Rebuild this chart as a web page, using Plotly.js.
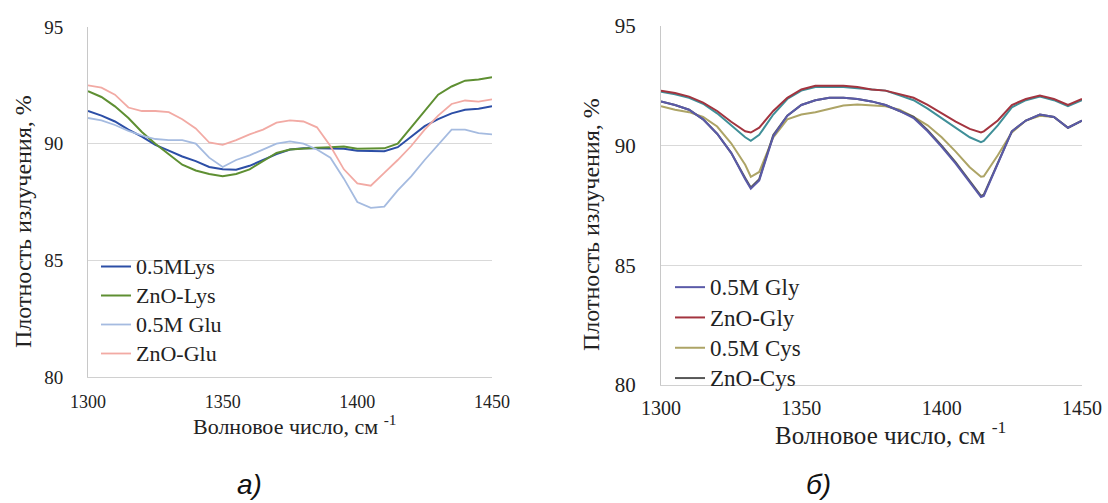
<!DOCTYPE html>
<html>
<head>
<meta charset="utf-8">
<script src="https://cdn.plot.ly/plotly-3.0.1.min.js"></script>
<style>
html,body{margin:0;padding:0;background:#fff;}
#chart{width:1108px;height:503px;}
</style>
</head>
<body>
<div id="chart"></div>
<script>
// ---------- Panel a) ----------
const wavenumberA = [1300,1305,1310,1315,1320,1325,1330,1335,1340,1345,1350,1355,1360,1365,1370,1375,1380,1385,1390,1395,1400,1405,1410,1415,1420,1425,1430,1435,1440,1445,1450];
const lys05M = [91.4,91.2,90.95,90.6,90.3,89.95,89.7,89.45,89.25,89.0,88.9,88.88,89.05,89.3,89.55,89.75,89.8,89.8,89.8,89.78,89.7,89.7,89.68,89.85,90.3,90.75,91.05,91.3,91.45,91.5,91.6];
const znoLys = [92.25,92.0,91.6,91.1,90.5,90.0,89.55,89.1,88.85,88.7,88.6,88.7,88.9,89.25,89.6,89.75,89.8,89.82,89.85,89.88,89.78,89.8,89.8,90.0,90.7,91.45,92.1,92.45,92.7,92.75,92.85];
const glu05M = [91.1,91.0,90.8,90.55,90.35,90.2,90.15,90.15,90.0,89.4,89.0,89.3,89.5,89.75,90.0,90.1,90.0,89.75,89.4,88.5,87.5,87.25,87.3,88.0,88.6,89.3,89.95,90.6,90.6,90.45,90.4];
const znoGlu = [92.5,92.4,92.1,91.55,91.4,91.4,91.35,91.05,90.65,90.05,89.95,90.15,90.4,90.6,90.9,91.0,90.95,90.7,89.9,88.9,88.3,88.2,88.75,89.3,89.9,90.6,91.2,91.7,91.85,91.8,91.9];
const legendA = ['0.5MLys', 'ZnO-Lys', '0.5M Glu', 'ZnO-Glu'];

// ---------- Panel б) ----------
const wavenumberB = [1300,1305,1310,1315,1320,1325,1330,1332,1335,1340,1345,1350,1355,1360,1365,1370,1375,1380,1385,1390,1395,1400,1405,1410,1414,1415,1420,1425,1430,1435,1440,1445,1450];
const gly05M = [91.85,91.7,91.5,91.1,90.5,89.7,88.6,88.2,88.55,90.4,91.25,91.7,91.9,92.0,92.0,91.95,91.85,91.7,91.45,91.15,90.6,89.95,89.25,88.45,87.85,87.9,89.25,90.6,91.05,91.3,91.2,90.75,91.05];
const znoGly = [92.3,92.2,92.05,91.8,91.45,91.0,90.6,90.55,90.75,91.45,92.0,92.35,92.5,92.5,92.5,92.45,92.35,92.3,92.15,92.0,91.7,91.35,91.0,90.7,90.55,90.6,91.05,91.7,91.95,92.1,91.95,91.7,91.95];
const glyExtra = [92.25,92.15,92.0,91.75,91.35,90.85,90.35,90.2,90.45,91.3,91.95,92.3,92.45,92.45,92.45,92.4,92.35,92.3,92.1,91.9,91.55,91.15,90.75,90.35,90.15,90.2,90.85,91.6,91.9,92.05,91.9,91.65,91.9];
const cys05M = [91.65,91.5,91.4,91.2,90.8,90.1,89.2,88.7,88.9,90.35,91.1,91.3,91.4,91.55,91.68,91.72,91.7,91.65,91.5,91.2,90.85,90.35,89.75,89.1,88.7,88.72,89.6,90.55,91.05,91.25,91.2,90.75,91.05];
const znoCys = [91.85,91.7,91.5,91.1,90.5,89.7,88.65,88.25,88.6,90.45,91.25,91.7,91.9,92.0,92.0,91.95,91.85,91.7,91.45,91.2,90.65,90.0,89.3,88.5,87.9,87.95,89.3,90.6,91.05,91.3,91.2,90.75,91.05];
const legendB = ['0.5M Gly', 'ZnO-Gly', '0.5M Cys', 'ZnO-Cys'];

const xTicks = [1300,1350,1400,1450];
const yTicks = [80,85,90,95];

const serif = "Liberation Serif, Times New Roman, serif";

function lbl(t, px) { return '<span style="font-size:' + px + 'px">' + t + '</span>'; }

function tr(x, y, name, color, xa, ya, leg, show, w) {
  return {x: x, y: y, name: name, type: 'scatter', mode: 'lines',
    line: {color: color, width: w || 2}, xaxis: xa, yaxis: ya,
    legend: leg, showlegend: show !== false, hoverinfo: 'skip'};
}

const cA = ['#2c4ea6', '#5e8f32', '#a5bbe0', '#f2aaa4'];
const cB = ['#5a5aa8', '#a3343f', '#ada466', '#575757'];

const data = [
  tr(wavenumberA, lys05M, lbl(legendA[0], 22), cA[0], 'x', 'y', 'legend'),
  tr(wavenumberA, znoLys, lbl(legendA[1], 22), cA[1], 'x', 'y', 'legend'),
  tr(wavenumberA, glu05M, lbl(legendA[2], 22), cA[2], 'x', 'y', 'legend', true, 1.8),
  tr(wavenumberA, znoGlu, lbl(legendA[3], 22), cA[3], 'x', 'y', 'legend', true, 1.8),
  tr(wavenumberB, glyExtra, legendB[1], '#3f8f98', 'x2', 'y2', 'legend2', false),
  tr(wavenumberB, cys05M, lbl(legendB[2], 23), cB[2], 'x2', 'y2', 'legend2', false),
  tr(wavenumberB, znoCys, lbl(legendB[3], 23), cB[3], 'x2', 'y2', 'legend2', false),
  tr(wavenumberB, gly05M, lbl(legendB[0], 23), cB[0], 'x2', 'y2', 'legend2'),
  tr(wavenumberB, znoGly, lbl(legendB[1], 23), cB[1], 'x2', 'y2', 'legend2'),
];
// legend entries for the Cys series, listed after the Gly ones
data.push(Object.assign({}, data[5], {showlegend: true, x: [null], y: [null]}));
data.push(Object.assign({}, data[6], {showlegend: true, x: [null], y: [null]}));

function xax(domain, size, standoff) {
  return {domain: domain, range: [1300, 1450], tickvals: xTicks, ticks: '',
    showgrid: false, zeroline: false, showline: true, linecolor: '#d0d0d0', linewidth: 1,
    tickfont: {family: serif, size: size, color: '#222'}, ticklabelstandoff: standoff};
}
function yax(domain, anchor, size, standoff) {
  return {domain: domain, range: [80, 95], tickvals: yTicks, ticks: '', anchor: anchor,
    showgrid: true, gridcolor: '#d9d9d9', gridwidth: 1, zeroline: false,
    showline: true, linecolor: '#c8c8c8', linewidth: 1,
    tickfont: {family: serif, size: size, color: '#222'}, ticklabelstandoff: standoff};
}

const layout = {
  width: 1108, height: 503,
  margin: {l: 0, r: 0, t: 0, b: 0},
  paper_bgcolor: '#fff', plot_bgcolor: '#fff',
  showlegend: true,
  xaxis: Object.assign(xax([88/1108, 492/1108], 18, 8), {anchor: 'y'}),
  yaxis: yax([1 - 377/503, 1 - 27/503], 'x', 19, 20),
  xaxis2: Object.assign(xax([661/1108, 1082/1108], 20, 5), {anchor: 'y2'}),
  yaxis2: yax([1 - 385/503, 1 - 26/503], 'x2', 21, 20),
  legend: {x: 96/1108, y: 1 - 247/503, xanchor: 'left', yanchor: 'top',
    bgcolor: 'rgba(0,0,0,0)', font: {family: serif, size: 20, color: '#222'},
    traceorder: 'normal', itemwidth: 30},
  legend2: {x: 670/1108, y: 1 - 267/503, xanchor: 'left', yanchor: 'top',
    bgcolor: 'rgba(0,0,0,0)', font: {family: serif, size: 21, color: '#222'},
    traceorder: 'normal', itemwidth: 30},
  annotations: [
    {text: 'Волновое число, см <sup>-1</sup>', xref: 'paper', yref: 'paper',
     x: 295/1108, y: 1 - 425/503, xanchor: 'center', yanchor: 'middle', showarrow: false,
     font: {family: serif, size: 22, color: '#222'}},
    {text: 'Волновое число, см <sup>-1</sup>', xref: 'paper', yref: 'paper',
     x: 890/1108, y: 1 - 433/503, xanchor: 'center', yanchor: 'middle', showarrow: false,
     font: {family: serif, size: 25, color: '#222'}},
    {text: 'Плотность излучения, %', xref: 'paper', yref: 'paper', textangle: -90,
     x: 23/1108, y: 1 - 222/503, xanchor: 'center', yanchor: 'middle', showarrow: false,
     font: {family: serif, size: 24, color: '#222'}},
    {text: 'Плотность излучения, %', xref: 'paper', yref: 'paper', textangle: -90,
     x: 591/1108, y: 1 - 225/503, xanchor: 'center', yanchor: 'middle', showarrow: false,
     font: {family: serif, size: 24, color: '#222'}},
    {text: '<i>а)</i>', xref: 'paper', yref: 'paper',
     x: 249/1108, y: 1 - 484/503, xanchor: 'center', yanchor: 'middle', showarrow: false,
     font: {family: 'Liberation Sans Narrow, Liberation Sans, sans-serif', size: 28, color: '#111'}},
    {text: '<i>б)</i>', xref: 'paper', yref: 'paper',
     x: 818/1108, y: 1 - 484/503, xanchor: 'center', yanchor: 'middle', showarrow: false,
     font: {family: 'Liberation Sans Narrow, Liberation Sans, sans-serif', size: 28, color: '#111'}}
  ]
};

Plotly.newPlot('chart', data, layout, {staticPlot: true, displayModeBar: false});
</script>
</body>
</html>
